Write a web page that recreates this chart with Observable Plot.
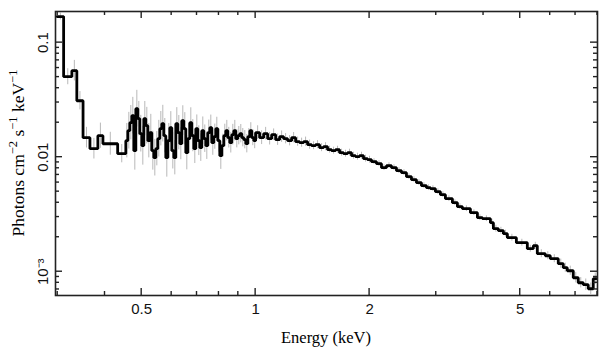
<!DOCTYPE html>
<html><head><meta charset="utf-8">
<script src="https://cdn.jsdelivr.net/npm/d3@7"></script>
<script src="https://cdn.jsdelivr.net/npm/@observablehq/plot@0.6"></script>
<style>html,body{margin:0;padding:0;background:#fff} svg{display:block}</style>
</head><body><div id="chart"></div>
<script>
// ---- Data (energy bin edges in keV, flux in photons cm^-2 s^-1 keV^-1, error half-width in dex) ----
const edgesLow = [0.299, 0.311, 0.327, 0.337, 0.350, 0.365, 0.383, 0.395, 0.432, 0.454];
const fluxLow  = [0.169, 0.0504, 0.0569, 0.0311, 0.0148, 0.01186, 0.0154, 0.0131, 0.01073];
const errLow   = [0.03, 0.07, 0.09, 0.08, 0.09, 0.09, 0.11, 0.10, 0.08];

const edgesSoft = [0.4540, 0.4596, 0.4652, 0.4709, 0.4766, 0.4825, 0.4884, 0.4943, 0.5004, 0.5065,
  0.5127, 0.5190, 0.5253, 0.5318, 0.5383, 0.5449, 0.5515, 0.5583, 0.5651, 0.5720, 0.5790, 0.5861,
  0.5933, 0.6005, 0.6079, 0.6153, 0.6229, 0.6305, 0.6382, 0.6460, 0.6539, 0.6619, 0.6700, 0.6782,
  0.6865, 0.6949, 0.7034, 0.7120, 0.7207, 0.7295, 0.7385, 0.7475, 0.7567, 0.7659, 0.7753, 0.7848,
  0.7944, 0.8041, 0.8140, 0.8239, 0.8340, 0.8442, 0.8545, 0.8650, 0.8756, 0.8863, 0.8971, 0.9081,
  0.9192, 0.9305, 0.9419, 0.9534, 0.9651, 0.9769, 0.9888, 1.0];
const fluxSoft = [0.01393, 0.01703, 0.02001, 0.02304, 0.0114, 0.02652, 0.02169, 0.01604, 0.0126, 0.02169,
  0.01884, 0.01393, 0.01637, 0.0114, 0.0099, 0.01187, 0.0145, 0.01773, 0.01962, 0.01541,
  0.0099, 0.01393, 0.0181, 0.0114, 0.0099, 0.01962, 0.01637, 0.01311, 0.02084, 0.01773,
  0.01095, 0.0145, 0.02001, 0.01541, 0.01187, 0.01773, 0.01393, 0.01211, 0.01703, 0.0145,
  0.0126, 0.01637, 0.0181, 0.01338, 0.0151, 0.01773, 0.01393, 0.01031, 0.0126, 0.01541,
  0.01703, 0.0148, 0.01338, 0.01572, 0.01703, 0.0145, 0.01541, 0.01604, 0.0148, 0.01422,
  0.01311, 0.0151, 0.01703, 0.0148, 0.01393];
const errSoft = [0.15, 0.16, 0.15, 0.16, 0.17, 0.16, 0.15, 0.16, 0.17, 0.15,
  0.16, 0.15, 0.16, 0.17, 0.16, 0.15, 0.16, 0.15, 0.16, 0.15,
  0.17, 0.15, 0.14, 0.16, 0.15, 0.14, 0.15, 0.14, 0.13, 0.14,
  0.15, 0.13, 0.13, 0.14, 0.13, 0.12, 0.13, 0.12, 0.12, 0.12,
  0.12, 0.11, 0.11, 0.11, 0.11, 0.10, 0.10, 0.12, 0.10, 0.10,
  0.09, 0.09, 0.09, 0.09, 0.09, 0.08, 0.08, 0.08, 0.08, 0.08,
  0.08, 0.07, 0.07, 0.07, 0.07];

const edgesMid = [1.0, 1.0246, 1.0498, 1.0757, 1.1021, 1.1293, 1.157, 1.1855, 1.2146, 1.2446, 1.2752,
  1.3066, 1.3387, 1.3716, 1.4054, 1.4399, 1.4753, 1.5116, 1.5487, 1.5869, 1.6259, 1.6659, 1.7068, 1.7488,
  1.7918, 1.8359, 1.881, 1.9273, 1.9747, 2.0232];
const fluxMid = [0.01637, 0.0148, 0.01604, 0.0145, 0.01572, 0.01422, 0.0151, 0.0145, 0.01393, 0.0148,
  0.01366, 0.01338, 0.01366, 0.01286, 0.0126, 0.01286, 0.01211, 0.01235, 0.01163, 0.0114, 0.01163, 0.01095,
  0.01073, 0.01095, 0.01031, 0.0101, 0.01031, 0.009703, 0.00951];
const errMid = [0.06, 0.06, 0.055, 0.055, 0.05, 0.05, 0.05, 0.045, 0.045, 0.045, 0.04, 0.04, 0.04, 0.04,
  0.035, 0.035, 0.035, 0.035, 0.03, 0.03, 0.03, 0.03, 0.03, 0.03, 0.03, 0.03, 0.03, 0.03, 0.03];

const edgesHard = [2.0232, 2.0856, 2.1499, 2.2163, 2.2847, 2.3552, 2.4279, 2.5028, 2.58, 2.6596, 2.7417,
  2.8263, 2.8957, 2.9851, 3.0772, 3.1721, 3.31, 3.4121, 3.5174, 3.6929, 3.8535, 3.9724, 4.1703, 4.247,
  4.3781, 4.5132, 4.6243, 4.8839, 5.2204, 5.4142, 5.5472, 5.8236, 6.0033, 6.3019, 6.4963, 6.6562, 6.9033,
  7.1163, 7.3359, 7.5623, 7.7957, 7.9874];
const fluxHard = [0.009135, 0.008774, 0.008096, 0.008428, 0.008096, 0.007622, 0.007321, 0.006755, 0.00636,
  0.005988, 0.005637, 0.005415, 0.005307, 0.004996, 0.004704, 0.004341, 0.004004, 0.003695, 0.003549,
  0.003275, 0.002962, 0.002903, 0.002679, 0.002374, 0.00228, 0.002147, 0.001981, 0.001792, 0.001588,
  0.001687, 0.001436, 0.001379, 0.001299, 0.001175, 0.001084, 0.00102, 0.000886, 0.000801, 0.00077,
  0.00071, 0.000869];
const errHard = [0.025, 0.025, 0.025, 0.025, 0.025, 0.025, 0.025, 0.025, 0.025, 0.025, 0.025, 0.025,
  0.025, 0.025, 0.025, 0.025, 0.025, 0.025, 0.025, 0.025, 0.025, 0.025, 0.03, 0.03, 0.03, 0.03, 0.03,
  0.03, 0.03, 0.03, 0.035, 0.035, 0.035, 0.04, 0.04, 0.04, 0.045, 0.045, 0.05, 0.05, 0.05];

// ---- Axes ----
const xDomain = [0.296, 8.0];
const yDomain = [6.2e-4, 0.187];
const xMajor = [0.5, 1, 2, 5];
const xMajorLabels = ["0.5", "1", "2", "5"];
const xMinor = [0.3, 0.4, 0.6, 0.7, 0.8, 0.9, 3, 4, 6, 7, 8];
const yMajor = [0.1, 0.01, 0.001];
const yMajorLabels = ["0.1", "0.01", "10\u207B\u00B3"];
const yMinor = [7e-4, 8e-4, 9e-4, 2e-3, 3e-3, 4e-3, 5e-3, 6e-3, 7e-3, 8e-3, 9e-3,
  0.02, 0.03, 0.04, 0.05, 0.06, 0.07, 0.08, 0.09];
const xTitle = "Energy (keV)";

// ---- Build tables ----
const segs = [[edgesLow, fluxLow, errLow], [edgesSoft, fluxSoft, errSoft],
              [edgesMid, fluxMid, errMid], [edgesHard, fluxHard, errHard]];
const bins = [];
for (const [e, f, r] of segs) for (let i = 0; i < f.length; i++)
  bins.push({lo: e[i], hi: e[i + 1], v: f[i], d: r[i]});
const steps = bins.flatMap(b => [{x: b.lo, y: b.v}, {x: b.hi, y: b.v}]);
const errs = bins.map(b => ({x: Math.sqrt(b.lo * b.hi), y1: b.v / 10 ** b.d, y2: b.v * 10 ** b.d}));
const xLabelRows = xMajor.map((v, i) => ({v, label: xMajorLabels[i]}));
const yLabelRows = yMajor.map((v, i) => ({v, label: yMajorLabels[i]}));

const sans = "'Liberation Sans', Arial, Helvetica, sans-serif";
const serif = "'Liberation Serif', 'Times New Roman', Times, serif";

const plot = Plot.plot({
  width: 609, height: 357,
  marginLeft: 55, marginRight: 12, marginTop: 11, marginBottom: 62,
  style: {fontFamily: sans, fontSize: "15px", color: "#111", background: "#fff"},
  x: {type: "log", domain: xDomain, axis: null},
  y: {type: "log", domain: yDomain, axis: null},
  marks: [
    Plot.ruleX(errs, {x: "x", y1: "y1", y2: "y2", stroke: "#b8b8b8", strokeWidth: 1, clip: true}),
    Plot.line(steps, {x: "x", y: "y", stroke: "#000", strokeWidth: 2.8, strokeLinejoin: "miter", clip: true}),
    Plot.frame({stroke: "#222", strokeWidth: 1.6}),
    Plot.text(xLabelRows, {x: "v", text: "label", frameAnchor: "bottom", lineAnchor: "top", dy: 8,
      fontSize: 15, fill: "#111"}),
    Plot.text(yLabelRows, {y: "v", text: "label", frameAnchor: "left", rotate: -90, textAnchor: "middle",
      lineAnchor: "bottom", dx: -8, fontSize: 15, fill: "#111"})
  ]
});
document.getElementById("chart").appendChild(plot);

// ---- Inward tick marks on all four sides, placed through Plot's scales ----
const X = plot.scale("x"), Y = plot.scale("y");
const [x0, x1] = X.range, [yb, yt] = Y.range;
const svg = d3.select(plot);
const g = svg.append("g").attr("stroke", "#222").attr("stroke-width", 1.4).attr("fill", "none");
function xt(v, len) {
  const px = X.apply(v);
  g.append("line").attr("x1", px).attr("x2", px).attr("y1", yb).attr("y2", yb - len);
  g.append("line").attr("x1", px).attr("x2", px).attr("y1", yt).attr("y2", yt + len);
}
function ytk(v, len) {
  const py = Y.apply(v);
  g.append("line").attr("y1", py).attr("y2", py).attr("x1", x0).attr("x2", x0 + len);
  g.append("line").attr("y1", py).attr("y2", py).attr("x1", x1).attr("x2", x1 - len);
}
xMajor.forEach(v => xt(v, 7));
xMinor.forEach(v => xt(v, 4));
yMajor.forEach(v => ytk(v, 7));
yMinor.forEach(v => ytk(v, 4));

// ---- Axis titles ----
svg.append("text").attr("x", (x0 + x1) / 2).attr("y", 343).attr("text-anchor", "middle")
  .attr("font-family", serif).attr("font-size", 16.5).attr("fill", "#000").text(xTitle);

const ytitle = svg.append("text").attr("transform", `translate(24,${(yb + yt) / 2}) rotate(-90)`)
  .attr("text-anchor", "middle").attr("font-family", serif).attr("font-size", 17.5).attr("fill", "#000");
const parts = [["Photons cm", 0], ["\u22122", 1], [" s", 0], ["\u22121", 1], [" keV", 0], ["\u22121", 1]];
let prevSup = false;
for (const [t, sup] of parts) {
  const ts = ytitle.append("tspan").text(t);
  if (sup && !prevSup) ts.attr("dy", -7).attr("font-size", 12.5);
  else if (!sup && prevSup) ts.attr("dy", 7);
  else if (sup) ts.attr("font-size", 12.5);
  prevSup = !!sup;
}
</script>
</body></html>
